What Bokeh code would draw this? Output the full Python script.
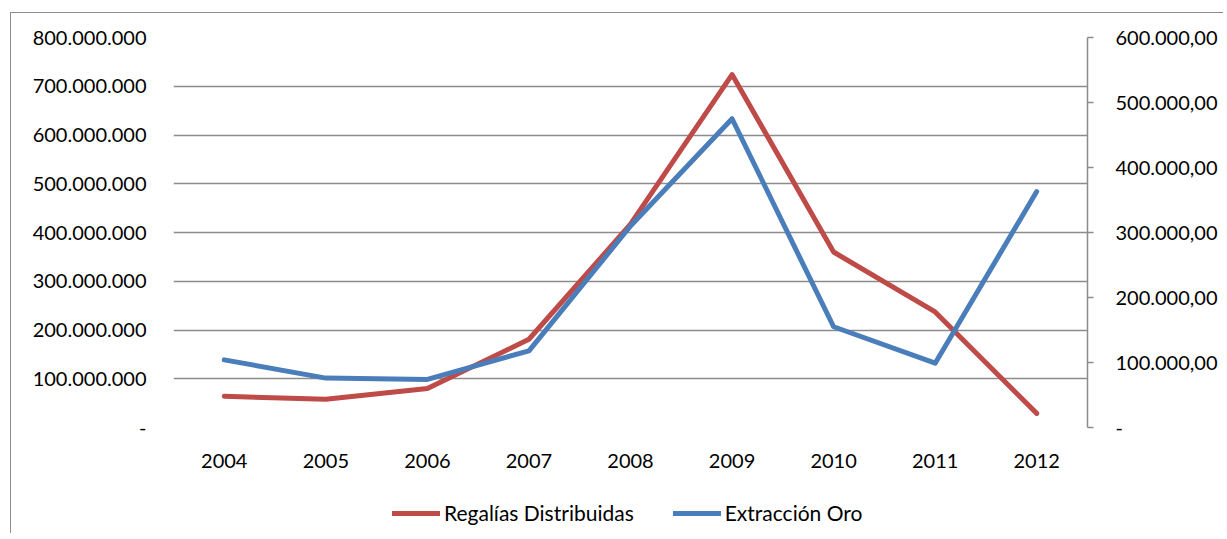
from bokeh.plotting import figure
from bokeh.models import (LinearAxis, Range1d, FactorRange, FixedTicker, CustomJSTickFormatter,
                          Legend, LegendItem)
from bokeh.layouts import column
from bokeh.embed import file_html
from bokeh.resources import INLINE

years = ["2004", "2005", "2006", "2007", "2008", "2009", "2010", "2011", "2012"]
regalias = [64e6, 58e6, 80e6, 181e6, 417e6, 724e6, 360e6, 237e6, 29e6]
extraccion = [104000, 76000, 74000, 118000, 310000, 475000, 155000, 99000, 363000]
left_ticks = [0, 100e6, 200e6, 300e6, 400e6, 500e6, 600e6, 700e6, 800e6]
right_ticks = [0, 100000, 200000, 300000, 400000, 500000, 600000]
series_names = ["Regalías Distribuidas", "Extracción Oro"]

FONT = "Lato"
FS = "20px"
RED = "#BE4B48"
BLUE = "#4A7EBB"
GRID = "#8C8C8C"

p = figure(width=1212, height=464, x_range=FactorRange(*years, range_padding=0),
           y_range=Range1d(0, 800e6), output_backend="svg", toolbar_location=None,
           min_border_left=162, min_border_right=136, min_border_top=24, min_border_bottom=50)
p.extra_y_ranges = {"right": Range1d(0, 600000)}
p.outline_line_color = None
p.background_fill_color = "white"
p.border_fill_color = "white"

# left axis
ya = p.yaxis[0]
ya.ticker = FixedTicker(ticks=left_ticks)
ya.formatter = CustomJSTickFormatter(code="""
if (tick == 0) return "-";
return Math.round(tick).toString().replace(/\\B(?=(\\d{3})+(?!\\d))/g, ".");
""")
ya.axis_line_color = None
ya.major_tick_line_color = None
ya.minor_tick_line_color = None
ya.major_tick_out = 0
ya.major_tick_in = 0
ya.major_label_standoff = 27
ya.major_label_text_font = FONT
ya.major_label_text_font_size = FS
ya.major_label_text_color = "black"

# right axis
ra = LinearAxis(y_range_name="right", ticker=FixedTicker(ticks=right_ticks))
ra.formatter = CustomJSTickFormatter(code="""
if (tick == 0) return "-";
return Math.round(tick).toString().replace(/\\B(?=(\\d{3})+(?!\\d))/g, ".") + ",00";
""")
ra.axis_line_color = GRID
ra.axis_line_width = 1.5
ra.major_tick_line_color = GRID
ra.major_tick_line_width = 1.5
ra.major_tick_out = 6
ra.major_tick_in = 0
ra.minor_tick_line_color = None
ra.major_label_standoff = 22
ra.major_label_text_font = FONT
ra.major_label_text_font_size = FS
ra.major_label_text_color = "black"
p.add_layout(ra, "right")

# x axis
xa = p.xaxis[0]
xa.axis_line_color = None
xa.major_tick_line_color = None
xa.major_tick_out = 0
xa.major_tick_in = 0
xa.major_label_standoff = 26
xa.major_label_text_font = FONT
xa.major_label_text_font_size = FS
xa.major_label_text_color = "black"

p.xgrid.grid_line_color = None
p.ygrid.ticker = FixedTicker(ticks=left_ticks)
p.ygrid.grid_line_color = GRID
p.ygrid.grid_line_width = 1.5

p.line(years, regalias, line_color=RED, line_width=5, line_join="round", line_cap="round")
p.line(years, extraccion, line_color=BLUE, line_width=5, line_join="round", line_cap="round",
       y_range_name="right")

# legend strip (same series, drawn outside its visible range so only the legend shows)
lg = figure(width=1212, height=56, x_range=FactorRange(*years, range_padding=0),
            y_range=Range1d(-2, -1), output_backend="svg", toolbar_location=None,
            x_axis_type=None, y_axis_type=None,
            min_border_left=0, min_border_right=0, min_border_top=0, min_border_bottom=0)
lg.outline_line_color = None
lg.grid.grid_line_color = None
lr1 = lg.line(years, regalias, line_color=RED, line_width=5, line_cap="round")
lr2 = lg.line(years, extraccion, line_color=BLUE, line_width=5, line_cap="round")
legend = Legend(items=[LegendItem(label=series_names[0], renderers=[lr1]),
                       LegendItem(label=series_names[1], renderers=[lr2])],
                orientation="horizontal", location=(219, 8))
legend.border_line_color = None
legend.background_fill_alpha = 0
legend.padding = 0
legend.margin = 0
legend.spacing = 39
legend.glyph_width = 48
legend.glyph_height = 20
legend.label_standoff = 4
legend.label_text_font = FONT
legend.label_text_font_size = "21px"
legend.label_text_color = "black"
lg.add_layout(legend, "center")

layout = column(p, lg, spacing=0, margin=(12, 0, 0, 10),
                styles={"border-left": "1.5px solid #8C8C8C", "border-top": "1.5px solid #8C8C8C"})

open("out.html", "w").write(file_html(layout, INLINE))
